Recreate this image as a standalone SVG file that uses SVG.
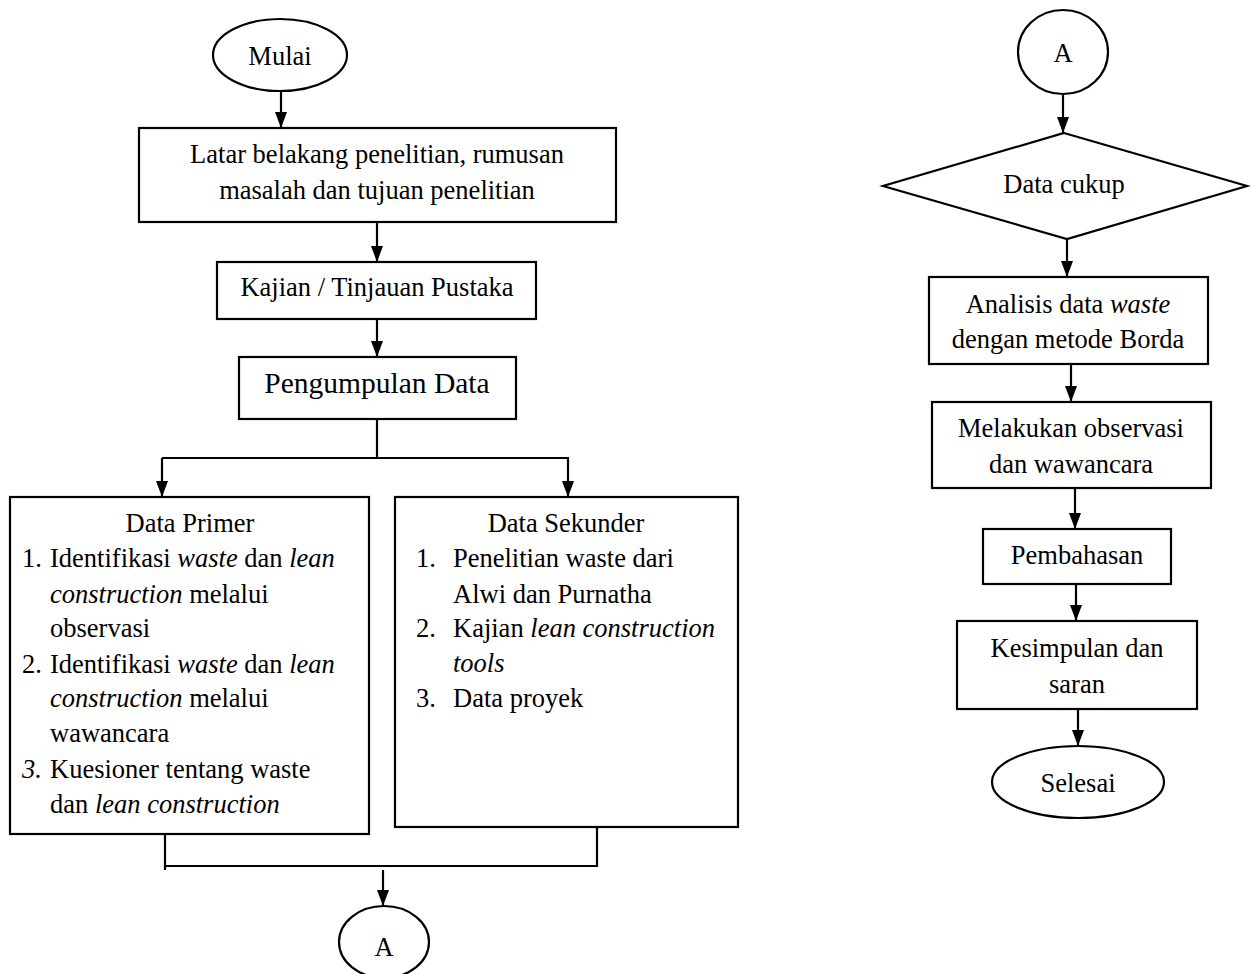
<svg xmlns="http://www.w3.org/2000/svg" width="1253" height="974" viewBox="0 0 1253 974">
<style>
.s{fill:#fff;stroke:#000;stroke-width:2.2}
.c{fill:none;stroke:#000;stroke-width:2.2}
text{font-family:"Liberation Serif","Times New Roman",serif;font-size:26.5px;fill:#000}
.m{text-anchor:middle}
.i{font-style:italic}
</style>
<defs>
<marker id="ah" markerUnits="userSpaceOnUse" markerWidth="16" markerHeight="12" refX="16" refY="6" orient="auto">
<path d="M0,0 L16,6 L0,12 z" fill="#000"/>
</marker>
</defs>
<rect width="1253" height="974" fill="#fff"/>
<g id="connectors">
<line class="c" x1="281" y1="91" x2="281" y2="128" marker-end="url(#ah)"/>
<line class="c" x1="377" y1="222" x2="377" y2="262" marker-end="url(#ah)"/>
<line class="c" x1="377" y1="319" x2="377" y2="357" marker-end="url(#ah)"/>
<polyline class="c" points="377,419 377,458"/>
<polyline class="c" points="162,458 569,458"/>
<line class="c" x1="162" y1="458" x2="162" y2="497" marker-end="url(#ah)"/>
<line class="c" x1="568" y1="458" x2="568" y2="497" marker-end="url(#ah)"/>
<polyline class="c" points="165,834 165,870"/>
<polyline class="c" points="165,866 597,866 597,827"/>
<line class="c" x1="383" y1="870" x2="383" y2="906" marker-end="url(#ah)"/>
<line class="c" x1="1063" y1="94" x2="1063" y2="133" marker-end="url(#ah)"/>
<line class="c" x1="1067" y1="239" x2="1067" y2="277" marker-end="url(#ah)"/>
<line class="c" x1="1071" y1="364" x2="1071" y2="402" marker-end="url(#ah)"/>
<line class="c" x1="1075" y1="488" x2="1075" y2="529" marker-end="url(#ah)"/>
<line class="c" x1="1076" y1="584" x2="1076" y2="621" marker-end="url(#ah)"/>
<line class="c" x1="1078" y1="709" x2="1078" y2="746" marker-end="url(#ah)"/>
</g>
<g id="mulai">
<ellipse class="s" cx="280" cy="55" rx="67" ry="36"/>
<text class="m" x="280" y="65">Mulai</text>
</g>
<g id="latar">
<rect class="s" x="139" y="128" width="477" height="94"/>
<text class="m" x="377" y="163">Latar belakang penelitian, rumusan</text>
<text class="m" x="377" y="199">masalah dan tujuan penelitian</text>
</g>
<g id="kajian">
<rect class="s" x="217" y="262" width="319" height="57"/>
<text class="m" x="377" y="296">Kajian / Tinjauan Pustaka</text>
</g>
<g id="pengumpulan">
<rect class="s" x="239" y="357" width="277" height="62"/>
<text class="m" x="377" y="393" style="font-size:29.5px">Pengumpulan Data</text>
</g>
<g id="primer">
<rect class="s" x="10" y="497" width="359" height="337"/>
<text class="m" x="190" y="532">Data Primer</text>
<text x="22" y="567">1.</text>
<text x="50" y="567">Identifikasi <tspan class="i">waste</tspan> dan <tspan class="i">lean</tspan></text>
<text x="50" y="603"><tspan class="i">construction</tspan> melalui</text>
<text x="50" y="637">observasi</text>
<text x="22" y="673">2.</text>
<text x="50" y="673">Identifikasi <tspan class="i">waste</tspan> dan <tspan class="i">lean</tspan></text>
<text x="50" y="707"><tspan class="i">construction</tspan> melalui</text>
<text x="50" y="742">wawancara</text>
<text x="22" y="778" class="i">3.</text>
<text x="50" y="778">Kuesioner tentang waste</text>
<text x="50" y="813">dan <tspan class="i">lean construction</tspan></text>
</g>
<g id="sekunder">
<rect class="s" x="395" y="497" width="343" height="330"/>
<text class="m" x="566" y="532">Data Sekunder</text>
<text x="416" y="567">1.</text>
<text x="453" y="567">Penelitian waste dari</text>
<text x="453" y="603">Alwi dan Purnatha</text>
<text x="416" y="637">2.</text>
<text x="453" y="637">Kajian <tspan class="i">lean construction</tspan></text>
<text x="453" y="672" class="i">tools</text>
<text x="416" y="707">3.</text>
<text x="453" y="707">Data proyek</text>
</g>
<g id="a1">
<ellipse class="s" cx="384" cy="942" rx="45" ry="36"/>
<text class="m" x="384" y="956">A</text>
</g>
<g id="a2">
<ellipse class="s" cx="1063" cy="52" rx="45" ry="42"/>
<text class="m" x="1063" y="62">A</text>
</g>
<g id="cukup">
<polygon class="s" points="1064,133 1247,186 1067,239 883,186"/>
<text class="m" x="1064" y="193">Data cukup</text>
</g>
<g id="analisis">
<rect class="s" x="929" y="277" width="279" height="87"/>
<text class="m" x="1068" y="313">Analisis data <tspan class="i">waste</tspan></text>
<text class="m" x="1068" y="348">dengan metode Borda</text>
</g>
<g id="melakukan">
<rect class="s" x="932" y="402" width="279" height="86"/>
<text class="m" x="1071" y="437">Melakukan observasi</text>
<text class="m" x="1071" y="473">dan wawancara</text>
</g>
<g id="pembahasan">
<rect class="s" x="983" y="529" width="188" height="55"/>
<text class="m" x="1077" y="564">Pembahasan</text>
</g>
<g id="kesimpulan">
<rect class="s" x="957" y="621" width="240" height="88"/>
<text class="m" x="1077" y="657">Kesimpulan dan</text>
<text class="m" x="1077" y="693">saran</text>
</g>
<g id="selesai">
<ellipse class="s" cx="1078" cy="782" rx="86" ry="36"/>
<text class="m" x="1078" y="792">Selesai</text>
</g>
</svg>
